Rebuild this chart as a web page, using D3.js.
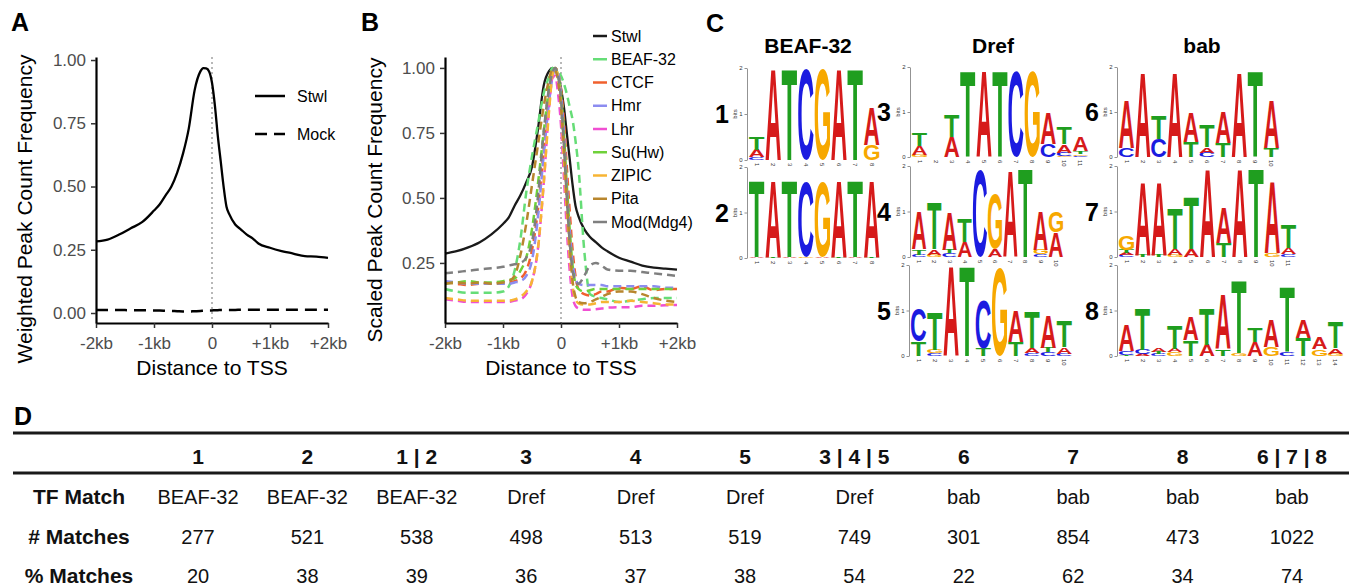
<!DOCTYPE html>
<html><head><meta charset="utf-8">
<script src="https://cdn.jsdelivr.net/npm/d3@7"></script>
<style>
body{margin:0;background:#fff}
svg{display:block}
text{font-family:"Liberation Sans",Arial,Helvetica,sans-serif}
</style>
</head><body>
<svg id="fig" width="1349" height="588"></svg>
<script>
// ---------------- DATA ----------------
const distX = [-2000,-1800,-1600,-1400,-1200,-1000,-900,-800,-700,-600,-500,-400,-300,-200,-150,-100,-50,0,50,100,150,200,250,300,400,500,600,700,800,1000,1200,1400,1600,1800,2000];
const distTicks = [-2000,-1000,0,1000,2000];
const distTickLabels = ["-2kb","-1kb","0","+1kb","+2kb"];
const freqTicksA = [0,0.25,0.5,0.75,1];
const freqTicksB = [0.25,0.5,0.75,1];

// Panel A
const stwlA = [0.283,0.29,0.31,0.335,0.36,0.405,0.43,0.465,0.50,0.555,0.63,0.73,0.88,0.955,0.968,0.967,0.955,0.91,0.82,0.70,0.60,0.50,0.42,0.39,0.35,0.33,0.31,0.295,0.275,0.258,0.245,0.235,0.225,0.223,0.218];
const mockA = [0.012,0.012,0.012,0.011,0.011,0.010,0.010,0.009,0.008,0.007,0.006,0.006,0.007,0.008,0.009,0.010,0.010,0.010,0.011,0.011,0.012,0.012,0.012,0.012,0.012,0.013,0.013,0.013,0.013,0.013,0.013,0.013,0.013,0.013,0.013];
const seriesA = ["Stwl","Mock"];

// Panel B
const seriesB = ["Stwl","BEAF-32","CTCF","Hmr","Lhr","Su(Hw)","ZIPIC","Pita","Mod(Mdg4)"];
const colorsB = ["#1a1a1a","#66dd77","#f0602e","#8c8cf0","#f04fd2","#6fd13a","#f7b434","#b8862e","#7f7f7f"];
const stwlB   = [0.286,0.295,0.31,0.33,0.36,0.40,0.425,0.47,0.51,0.56,0.62,0.76,0.93,0.99,1.0,0.99,0.97,0.92,0.85,0.75,0.65,0.55,0.47,0.43,0.38,0.35,0.33,0.31,0.295,0.27,0.255,0.24,0.232,0.228,0.224];
const beaf32B = [0.15,0.14,0.135,0.135,0.135,0.14,0.16,0.22,0.34,0.52,0.66,0.78,0.9,0.97,1.0,0.995,0.985,0.97,0.94,0.9,0.85,0.8,0.72,0.62,0.3,0.13,0.12,0.115,0.11,0.10,0.105,0.11,0.115,0.115,0.115];
const ctcfB   = [0.175,0.17,0.165,0.17,0.17,0.175,0.175,0.18,0.19,0.22,0.3,0.45,0.68,0.9,0.97,1.0,0.98,0.92,0.8,0.62,0.45,0.3,0.2,0.15,0.13,0.125,0.13,0.14,0.14,0.155,0.15,0.16,0.145,0.15,0.15];
const hmrB    = [0.18,0.175,0.17,0.17,0.17,0.17,0.17,0.175,0.18,0.2,0.26,0.42,0.66,0.88,0.96,0.995,0.98,0.9,0.75,0.55,0.38,0.25,0.19,0.17,0.165,0.165,0.165,0.165,0.16,0.16,0.16,0.16,0.16,0.155,0.155];
const lhrB    = [0.11,0.105,0.1,0.1,0.1,0.1,0.1,0.105,0.11,0.13,0.18,0.3,0.55,0.86,0.96,0.97,0.9,0.78,0.58,0.38,0.22,0.12,0.085,0.075,0.07,0.07,0.072,0.075,0.078,0.08,0.08,0.085,0.085,0.087,0.088];
const suhwB   = [0.17,0.175,0.18,0.175,0.175,0.18,0.185,0.19,0.22,0.27,0.38,0.55,0.75,0.93,0.99,1.0,0.97,0.9,0.75,0.55,0.38,0.24,0.17,0.15,0.14,0.145,0.15,0.15,0.15,0.15,0.15,0.15,0.15,0.15,0.15];
const zipicB  = [0.115,0.11,0.105,0.105,0.105,0.105,0.105,0.11,0.12,0.14,0.18,0.3,0.55,0.85,0.97,1.0,0.96,0.85,0.65,0.45,0.28,0.16,0.11,0.095,0.09,0.09,0.095,0.1,0.1,0.1,0.105,0.1,0.095,0.09,0.09];
const pitaB   = [0.17,0.175,0.17,0.175,0.17,0.175,0.18,0.2,0.28,0.4,0.55,0.7,0.85,0.96,0.995,0.99,0.95,0.85,0.7,0.5,0.32,0.18,0.12,0.1,0.095,0.1,0.11,0.12,0.13,0.14,0.14,0.13,0.115,0.105,0.1];
const modB    = [0.21,0.215,0.22,0.225,0.23,0.235,0.24,0.245,0.25,0.27,0.33,0.5,0.75,0.93,0.98,1.0,0.97,0.88,0.7,0.5,0.33,0.22,0.18,0.17,0.2,0.24,0.25,0.24,0.225,0.22,0.22,0.215,0.21,0.205,0.2];
const valuesB = [stwlB,beaf32B,ctcfB,hmrB,lhrB,suhwB,zipicB,pitaB,modB];

// Panel C : motif logos, each position lists [letter, bits] from bottom to top
const logoTitles = ["BEAF-32","Dref","bab"];
const logo1 = [[["C",0.06],["A",0.16],["T",0.28]],[["A",1.98]],[["T",1.98]],[["C",1.98]],[["G",1.98]],[["A",1.98]],[["T",1.98]],[["G",0.33],["A",0.83]]];
const logo2 = [[["A",0.02],["T",1.68]],[["T",0.02],["A",1.68]],[["A",0.02],["T",1.68]],[["G",0.03],["C",1.64]],[["A",0.03],["G",1.64]],[["T",0.02],["A",1.68]],[["A",0.02],["T",1.68]],[["T",0.02],["A",1.68]]];
const logo3 = [[["G",0.05],["A",0.2],["T",0.28]],[],[["A",0.45],["T",0.48]],[["T",1.91]],[["A",1.91]],[["T",1.91]],[["C",1.91]],[["G",1.89]],[["C",0.29],["A",0.68]],[["G",0.03],["C",0.07],["A",0.18],["T",0.37]],[["C",0.03],["G",0.04],["T",0.06],["A",0.32]]];
const logo4 = [[["C",0.05],["T",0.12],["A",0.82]],[["G",0.05],["A",0.12],["T",1.03]],[["C",0.08],["T",0.08],["A",0.82]],[["A",0.33],["T",0.51]],[["C",1.9]],[["A",0.18],["G",1.21]],[["A",1.89]],[["T",1.94]],[["C",0.06],["G",0.1],["A",0.85]],[["A",0.55],["G",0.47]]];
const logo5 = [[["T",0.32],["C",0.73]],[["C",0.06],["G",0.08],["T",0.83]],[["A",1.96]],[["T",1.96]],[["T",0.17],["C",1.06]],[["G",1.93]],[["T",0.3],["A",0.67]],[["C",0.06],["A",0.12],["T",0.79]],[["C",0.08],["T",0.1],["A",0.72]],[["C",0.05],["A",0.14],["T",0.56]]];
const logo6 = [[["C",0.2],["A",1.06]],[["A",1.89]],[["C",0.4],["T",0.53]],[["A",1.89]],[["T",0.33],["A",0.67]],[["C",0.1],["A",0.12],["T",0.5]],[["T",0.32],["A",0.68]],[["A",1.89]],[["T",1.89]],[["T",0.2],["A",1.06]]];
const logo7 = [[["C",0.04],["A",0.04],["T",0.08],["G",0.32]],[["T",0.05],["A",1.6]],[["T",0.05],["A",1.6]],[["G",0.05],["A",0.13],["T",0.88]],[["A",0.18],["T",1.14]],[["A",1.94]],[["T",0.3],["A",0.76]],[["A",1.94]],[["T",1.94]],[["G",0.08],["A",1.57]],[["C",0.06],["A",0.14],["T",0.5]]];
const logo8 = [[["T",0.03],["C",0.08],["A",0.57]],[["A",0.04],["C",0.1],["T",0.91]],[["C",0.05],["T",0.04],["A",0.08]],[["G",0.08],["A",0.08],["T",0.52]],[["T",0.35],["A",0.51]],[["A",0.24],["T",0.81]],[["T",0.15],["A",1.19]],[["G",0.06],["T",1.61]],[["A",0.31],["T",0.3]],[["G",0.2],["A",0.59]],[["C",0.08],["T",1.44]],[["T",0.39],["A",0.4]],[["G",0.15],["A",0.24]],[["G",0.05],["A",0.12],["T",0.58]]];
const logoNames = ["1","2","3","4","5","6","7","8"];
const logoData = [logo1,logo2,logo3,logo4,logo5,logo6,logo7,logo8];

// Panel D : table
const tableCols = ["1","2","1 | 2","3","4","5","3 | 4 | 5","6","7","8","6 | 7 | 8"];
const rowLabels = ["TF Match","# Matches","% Matches"];
const tfMatch = ["BEAF-32","BEAF-32","BEAF-32","Dref","Dref","Dref","Dref","bab","bab","bab","bab"];
const nMatches = [277,521,538,498,513,519,749,301,854,473,1022];
const pctMatches = [20,38,39,36,37,38,54,22,62,34,74];

// ---------------- DRAWING ----------------
const svg = d3.select("#fig");
svg.append("rect").attr("width",1349).attr("height",588).attr("fill","#fff");

function panelLabel(t,x,y){
  svg.append("text").attr("x",x).attr("y",y).attr("font-size",25).attr("font-weight","bold").attr("fill","#000").text(t);
}

function profilePanel(cfg){
  const g = svg.append("g");
  const x = d3.scaleLinear().domain([-2000,2000]).range([cfg.x0,cfg.x1]);
  const y = d3.scaleLinear().domain(cfg.yDom).range([323,57]);
  g.append("line").attr("x1",x(0)).attr("x2",x(0)).attr("y1",57).attr("y2",323)
    .attr("stroke","#b8b8b8").attr("stroke-width",2).attr("stroke-dasharray","2,3");
  const line = d3.line().x((d,i)=>x(distX[i])).y(d=>y(d)).curve(d3.curveMonotoneX);
  cfg.series.forEach(s=>{
    g.append("path").attr("d",line(s.values)).attr("fill","none")
      .attr("stroke",s.color).attr("stroke-width",s.width)
      .attr("stroke-dasharray",s.dash||null).attr("stroke-linejoin","round");
  });
  const ax = g.append("g").attr("transform","translate(0,323)")
    .call(d3.axisBottom(x).tickValues(distTicks).tickFormat((d,i)=>distTickLabels[i]).tickSize(5).tickSizeOuter(0));
  const ay = g.append("g").attr("transform",`translate(${cfg.x0},0)`)
    .call(d3.axisLeft(y).tickValues(cfg.yTicks).tickFormat(d3.format(".2f")).tickSize(5).tickSizeOuter(0));
  [ax,ay].forEach(a=>{
    a.select(".domain").attr("stroke","#000").attr("stroke-width",2.2);
    a.selectAll(".tick line").attr("stroke","#333").attr("stroke-width",1.5);
    a.selectAll(".tick text").attr("fill","#4d4d4d").attr("font-size",17)
      .attr("font-family",'"Liberation Sans",Arial,sans-serif');
  });
  ax.selectAll(".tick text").attr("dy","1.05em");
  ay.selectAll(".tick text").attr("dx","-2");
  g.append("text").attr("x",(cfg.x0+cfg.x1)/2).attr("y",375).attr("text-anchor","middle")
    .attr("font-size",21).attr("fill","#000").text("Distance to TSS");
  g.append("text").attr("transform",`translate(${cfg.ytX},${cfg.ytY}) rotate(-90)`)
    .attr("text-anchor","middle").attr("font-size",21).attr("fill","#000").text(cfg.yTitle);
  return g;
}

// Panel A
panelLabel("A",11,31);
const gA = profilePanel({x0:96,x1:328,yDom:[-0.0395,1.012],yTicks:freqTicksA,
  yTitle:"Weighted Peak Count Frequency",ytX:32,ytY:209,
  series:[{values:stwlA,color:"#000",width:2.3},{values:mockA,color:"#000",width:2.5,dash:"12,7"}]});
[[seriesA[0],null,96],[seriesA[1],"12,7",134]].forEach(([n,dash,yy])=>{
  gA.append("line").attr("x1",255).attr("x2",285).attr("y1",yy).attr("y2",yy)
    .attr("stroke","#000").attr("stroke-width",2.5).attr("stroke-dasharray",dash);
  gA.append("text").attr("x",297).attr("y",yy+5.5).attr("font-size",16).attr("fill","#000").text(n);
});

// Panel B
panelLabel("B",361,31);
const gB = profilePanel({x0:445,x1:677,yDom:[0.019,1.042],yTicks:freqTicksB,
  yTitle:"Scaled Peak Count Frequency",ytX:382,ytY:200,
  series:valuesB.map((v,i)=>({values:v,color:colorsB[i],width:i===0?2.3:2.5,dash:i===0?null:"8,5"}))});
seriesB.forEach((n,i)=>{
  const yy = 36 + i*23.25;
  gB.append("line").attr("x1",593).attr("x2",607).attr("y1",yy).attr("y2",yy)
    .attr("stroke",colorsB[i]).attr("stroke-width",2.5);
  gB.append("text").attr("x",611).attr("y",yy+5.5).attr("font-size",16).attr("fill","#000").text(n);
});

// Panel C : sequence logos (letters are real text, stretched to their information height)
panelLabel("C",706,32);
const logoTitleX = [808,993,1202];
logoTitles.forEach((t,i)=>{
  svg.append("text").attr("x",logoTitleX[i]).attr("y",53).attr("text-anchor","middle")
    .attr("font-size",21).attr("font-weight","bold").attr("fill","#000").text(t);
});
const letterColor = {A:"#d61a1a",C:"#1b1be0",G:"#f7a800",T:"#1f9e1f"};
const ctx = document.createElement("canvas").getContext("2d");
ctx.font = 'bold 100px "Liberation Sans", Arial, sans-serif';
const met = {};
"ACGT".split("").forEach(L=>{
  const m = ctx.measureText(L);
  met[L] = {l:m.actualBoundingBoxLeft,r:m.actualBoundingBoxRight,a:m.actualBoundingBoxAscent,d:m.actualBoundingBoxDescent};
});
const logoLayout = [
  {ax:747,y0:160,y2:68,colW:16.3,numX:722},
  {ax:747,y0:258,y2:167,colW:16.3,numX:722},
  {ax:910,y0:157,y2:67,colW:16,numX:884},
  {ax:910,y0:257,y2:166,colW:15.1,numX:884},
  {ax:909,y0:356,y2:265,colW:16.1,numX:884},
  {ax:1117,y0:157,y2:67,colW:16,numX:1092},
  {ax:1117,y0:257,y2:166,colW:16.1,numX:1092},
  {ax:1117,y0:356,y2:265,colW:16,numX:1092}
];
logoData.forEach((data,k)=>{
  const L = logoLayout[k];
  const g = svg.append("g");
  const y = d3.scaleLinear().domain([0,2]).range([L.y0,L.y2]);
  const x = d3.scaleBand().domain(d3.range(data.length)).range([L.ax+2, L.ax+2+L.colW*data.length]).paddingInner(0.06);
  const ay = g.append("g").attr("transform",`translate(${L.ax},0)`)
    .call(d3.axisLeft(y).tickValues([0,1,2]).tickFormat(d3.format("d")).tickSize(2.5).tickSizeOuter(0));
  ay.select(".domain").attr("stroke","#777").attr("stroke-width",0.8);
  ay.selectAll(".tick line").attr("stroke","#777").attr("stroke-width",0.8);
  ay.selectAll(".tick text").attr("font-size",6).attr("fill","#333").attr("dx","1");
  g.append("text").attr("transform",`translate(${L.ax-10},${(L.y0+L.y2)/2}) rotate(-90)`)
    .attr("text-anchor","middle").attr("font-size",6).attr("fill","#333").text("bits");
  data.forEach((stack,i)=>{
    let base = 0;
    const bw = x.bandwidth();
    g.append("text").attr("transform",`translate(${x(i)+bw/2-2},${L.y0+3}) rotate(90)`)
      .attr("font-size",6).attr("fill","#333").text(i+1);
    stack.forEach(([lt,bits])=>{
      const top = y(base+bits), bot = y(base);
      const h = bot-top;
      base += bits;
      if(h < 0.4) return;
      const m = met[lt];
      const sx = bw/(m.l+m.r), sy = h/(m.a+m.d);
      g.append("text")
        .attr("transform",`translate(${x(i)},${top}) scale(${sx},${sy}) translate(${m.l},${m.a})`)
        .attr("font-size",100).attr("font-weight","bold").attr("fill",letterColor[lt]).text(lt);
    });
  });
  svg.append("text").attr("x",L.numX).attr("y",(L.y0+L.y2)/2+9).attr("text-anchor","middle")
    .attr("font-size",25).attr("font-weight","bold").attr("fill","#000").text(logoNames[k]);
});

// Panel D : table
panelLabel("D",14,425);
const cx = d3.scalePoint().domain(tableCols).range([198,1292]);
[433,473].forEach(yy=>{
  svg.append("line").attr("x1",13).attr("x2",1349).attr("y1",yy).attr("y2",yy)
    .attr("stroke","#1a1a1a").attr("stroke-width",3);
});
tableCols.forEach(c=>{
  svg.append("text").attr("x",cx(c)).attr("y",464).attr("text-anchor","middle")
    .attr("font-size",21).attr("font-weight","bold").attr("fill","#111").text(c);
});
const rowsY = [504,544,583];
rowLabels.forEach((r,i)=>{
  svg.append("text").attr("x",79).attr("y",rowsY[i]).attr("text-anchor","middle")
    .attr("font-size",21).attr("font-weight","bold").attr("fill","#111").text(r);
});
[tfMatch,nMatches,pctMatches].forEach((row,i)=>{
  row.forEach((v,j)=>{
    svg.append("text").attr("x",cx(tableCols[j])).attr("y",rowsY[i]).attr("text-anchor","middle")
      .attr("font-size",20).attr("fill","#111").text(v);
  });
});
</script>
</body></html>
